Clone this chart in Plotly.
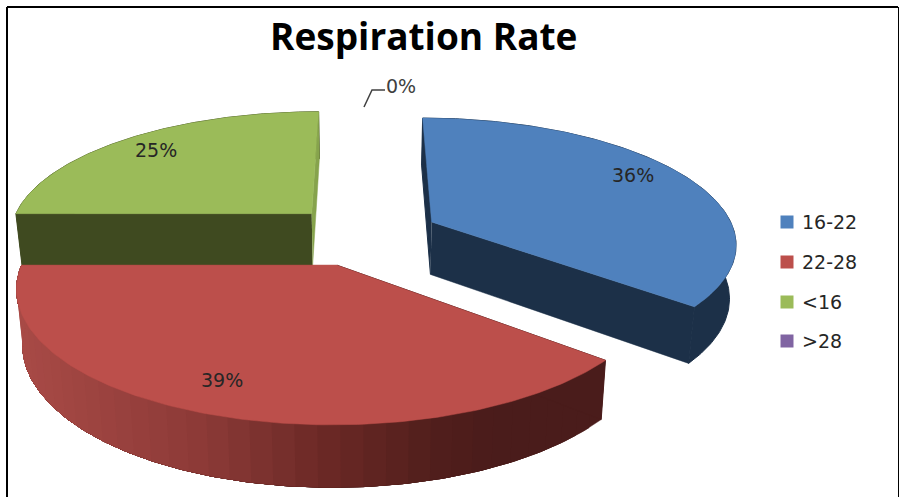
import numpy as np
import plotly.graph_objects as go

# Chart data
title = "Respiration Rate"
categories = ["16-22", "22-28", "<16", ">28"]
percent_values = [36, 39, 25, 0]
top_colors = ["#4f81bd", "#bc4f4b", "#9bbb59", "#8064a2"]
start_wall_colors = ["#1c3048", "#4a1c1b", "#3f4a20"]
end_wall_colors = ["#1c3048", "#a84a46", "#86a34c"]
rim_colors = ["#1c3048", "#6a2825", "#3f4a20"]

# Camera and pie geometry, in page pixels
CX, CY = 364.0, 235.0
RX, RY = 304.0, 124.0
TILT = 0.1565
EXPLODE = 0.25
THICK = 54.0
FAR = 1.018
LABEL_RADIUS = [0.82, 0.8, 0.85]
LABEL_SHIFT = [(-6, 7), (-14, 0), (3, -1)]


def project(x, y, bottom=False):
    w = 1 + TILT * y
    if bottom:
        return CX + RX * x / (w * FAR), CY + (-RY * y + THICK) / (w * FAR)
    return CX + RX * x / w, CY - RY * y / w


def world(theta_deg, radius, mid_deg):
    t, m = np.radians(theta_deg), np.radians(mid_deg)
    return (radius * np.sin(t) + EXPLODE * np.sin(m),
            radius * np.cos(t) + EXPLODE * np.cos(m))


def polygon(xs, ys, color, edge=0.5):
    return go.Scatter(x=list(xs), y=list(ys), mode="lines", fill="toself",
                      fillcolor=color, line=dict(color=color, width=edge),
                      hoverinfo="skip", showlegend=False)


def shade_red(x):
    # Outer rim of the red slice darkens from left to right
    stops_x = [20, 200, 330, 430, 490]
    r = np.interp(x, stops_x, [0xa8, 0x8c, 0x6a, 0x52, 0x4a])
    g = np.interp(x, stops_x, [0x4a, 0x3a, 0x28, 0x1f, 0x1c])
    b = np.interp(x, stops_x, [0x46, 0x37, 0x25, 0x1c, 0x1b])
    return f"rgb({r:.0f},{g:.0f},{b:.0f})"


fig = go.Figure()
edges = np.concatenate([[0], np.cumsum(percent_values)]) * 3.6
annotations = []

for i in [2, 0, 1]:
    start, end = edges[i], edges[i + 1]
    mid = (start + end) / 2
    arc = np.linspace(start, end, 161)
    wx, wy = world(arc, 1.0, mid)
    ax, ay = world(mid, 0.0, mid)
    tx, ty = project(wx, wy)
    bx, by = project(wx, wy, bottom=True)
    apx, apy = project(ax, ay)
    abx, aby = project(ax, ay, bottom=True)

    # Outer rim; each band overlaps the rest of the arc so no seams show
    if i == 1:
        for k in range(0, len(arc) - 4, 4):
            fig.add_trace(polygon(np.r_[tx[k:], bx[k:][::-1]], np.r_[ty[k:], by[k:][::-1]],
                                  shade_red((tx[k] + tx[k + 4]) / 2)))
    else:
        fig.add_trace(polygon(np.r_[tx, bx[::-1]], np.r_[ty, by[::-1]], rim_colors[i], edge=1))

    # Radial side walls
    fig.add_trace(polygon([apx, tx[0], bx[0], abx], [apy, ty[0], by[0], aby], start_wall_colors[i], edge=1))
    fig.add_trace(polygon([apx, tx[-1], bx[-1], abx], [apy, ty[-1], by[-1], aby], end_wall_colors[i]))

    # Top face
    fig.add_trace(polygon(np.r_[apx, tx, apx], np.r_[apy, ty, apy], top_colors[i]))

    lx, ly = project(*world(mid, LABEL_RADIUS[i], mid))
    annotations.append(dict(x=lx, y=ly, text=f"{percent_values[i]}%", showarrow=False,
                            xshift=LABEL_SHIFT[i][0], yshift=LABEL_SHIFT[i][1],
                            font=dict(family="DejaVu Sans", size=19, color="#262626")))

# Leader line of the empty slice
fig.add_trace(go.Scatter(x=[364, 372, 385], y=[107, 90, 90], mode="lines",
                         line=dict(color="#404040", width=1.5),
                         hoverinfo="skip", showlegend=False))
annotations.append(dict(x=401, y=86, text=f"{percent_values[3]}%", showarrow=False,
                        font=dict(family="DejaVu Sans", size=19, color="#404040")))

# Legend column
legend_y = [222, 262, 302, 341]
fig.add_trace(go.Scatter(x=[787] * 4, y=legend_y, mode="markers",
                         marker=dict(symbol="square", size=13, color=top_colors),
                         hoverinfo="skip", showlegend=False))
for name, y in zip(categories, legend_y):
    annotations.append(dict(x=800, y=y, text=name.replace("<", "&lt;").replace(">", "&gt;"),
                            xanchor="left", showarrow=False,
                            font=dict(family="DejaVu Sans", size=19, color="#262626")))

annotations.append(dict(x=423, y=35, text=f"<b>{title}</b>", showarrow=False,
                        font=dict(family="Open Sans", size=37, color="#000000")))

frame = dict(type="line", line=dict(color="#000000", width=2), layer="above")
thin = dict(type="line", line=dict(color="#000000", width=1), layer="above")

fig.update_layout(
    width=899, height=497, margin=dict(l=0, r=0, t=0, b=0),
    paper_bgcolor="white", plot_bgcolor="white", showlegend=False,
    xaxis=dict(range=[0, 899], visible=False, fixedrange=True),
    yaxis=dict(range=[497, 0], visible=False, fixedrange=True),
    annotations=annotations,
    shapes=[
        dict(frame, x0=7, x1=7, y0=7, y1=497),
        dict(frame, x0=7, x1=898, y0=7, y1=7),
        dict(thin, x0=898.5, x1=898.5, y0=7, y1=497),
    ],
)

fig.write_html("out.html", config=dict(displayModeBar=False))
